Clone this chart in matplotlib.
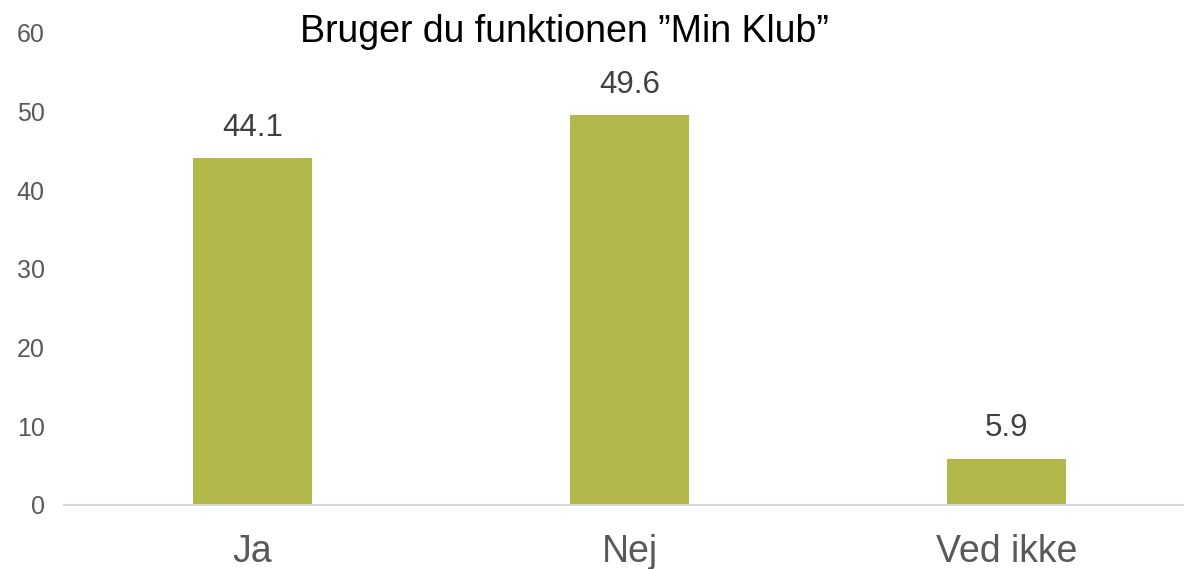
import matplotlib.pyplot as plt

plt.rcParams['font.family'] = ['Liberation Sans', 'DejaVu Sans']

categories = ['Ja', 'Nej', 'Ved ikke']
values = [44.1, 49.6, 5.9]
yticks = [0, 10, 20, 30, 40, 50, 60]

fig = plt.figure(figsize=(11.84, 5.69), dpi=100)
ax = fig.add_axes([64 / 1184, 64 / 569, 1131 / 1184, 472 / 569])

x = range(len(categories))
bars = ax.bar(x, values, width=0.313, color='#B2B84A')
ax.set_xlim(-0.5, 2.5)
ax.set_ylim(0, 60)
ax.set_yticks(yticks)
ax.set_xticks(list(x))
ax.set_xticklabels(categories, fontsize=27, color='#595959')
ax.tick_params(axis='y', labelsize=18, colors='#595959', length=0, pad=14)
ax.tick_params(axis='x', length=0, pad=21)

for s in ['top', 'right', 'left']:
    ax.spines[s].set_visible(False)
ax.spines['bottom'].set_color('#D9D9D9')
ax.spines['bottom'].set_linewidth(1.5)

for b, v in zip(bars, values):
    ax.annotate(f'{v:.1f}', (b.get_x() + b.get_width() / 2, v),
                xytext=(0, 11), textcoords='offset points',
                ha='center', va='bottom', fontsize=22.5, color='#404040')

fig.text(564 / 1184, 1 - 42 / 569, 'Bruger du funktionen ”Min Klub”',
         ha='center', va='baseline', fontsize=27, color='black')

fig.savefig('out.png', dpi=100)
